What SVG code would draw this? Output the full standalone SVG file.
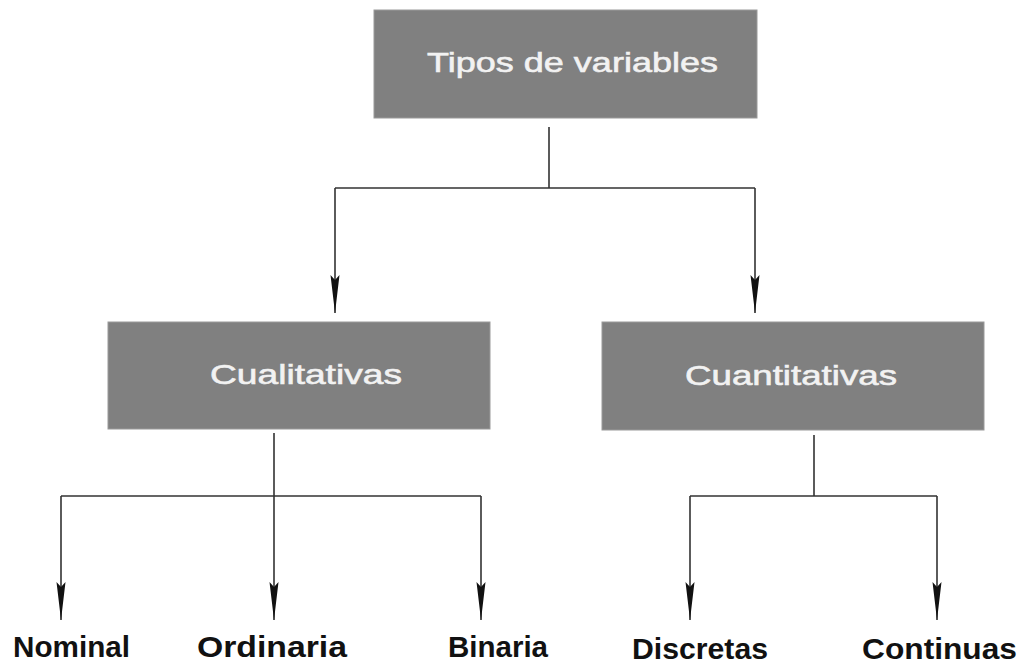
<svg xmlns="http://www.w3.org/2000/svg" width="1021" height="664" viewBox="0 0 1021 664">
<style>
.box{fill:#808080;stroke:#9a9a9a;stroke-width:1}
.bt{font-family:"Liberation Sans",Arial,sans-serif;fill:#f2f2f2;stroke:#f2f2f2;stroke-width:0.6;font-size:28px}
.lt{font-family:"Liberation Sans",Arial,sans-serif;fill:#111;font-size:30px;font-weight:bold}
.ln{fill:none;stroke:#333;stroke-width:1.6}
</style>
<defs>
<marker id="ah" markerUnits="userSpaceOnUse" viewBox="-40 -6 42 12" refX="0" refY="0" markerWidth="42" markerHeight="12" orient="auto">
<path d="M0,0 L-38,-4.5 L-33,0 L-38,4.5 Z" fill="#111"/>
</marker>
</defs>
<rect width="1021" height="664" fill="#fff"/>
<g id="connectors">
<path class="ln" d="M549,127 V188 M335,188 H755"/>
<path class="ln" d="M335,188 V313" marker-end="url(#ah)"/>
<path class="ln" d="M755,188 V313" marker-end="url(#ah)"/>
<path class="ln" d="M274,433 V496 M61,496 H481"/>
<path class="ln" d="M61,496 V620" marker-end="url(#ah)"/>
<path class="ln" d="M274,496 V620" marker-end="url(#ah)"/>
<path class="ln" d="M481,496 V620" marker-end="url(#ah)"/>
<path class="ln" d="M814,435 V496 M690,496 H937"/>
<path class="ln" d="M690,496 V620" marker-end="url(#ah)"/>
<path class="ln" d="M937,496 V620" marker-end="url(#ah)"/>
</g>
<g id="node-tipos">
<rect class="box" x="374" y="10" width="383" height="108"/>
<text class="bt" x="427" y="72" font-size="30" textLength="291" lengthAdjust="spacingAndGlyphs">Tipos de variables</text>
</g>
<g id="node-cualitativas">
<rect class="box" x="108" y="322" width="382" height="107"/>
<text class="bt" x="210" y="384" textLength="192" lengthAdjust="spacingAndGlyphs">Cualitativas</text>
</g>
<g id="node-cuantitativas">
<rect class="box" x="602" y="322" width="382" height="108"/>
<text class="bt" x="685" y="385" textLength="212" lengthAdjust="spacingAndGlyphs">Cuantitativas</text>
</g>
<g id="node-nominal"><text class="lt" x="13" y="657" textLength="117" lengthAdjust="spacingAndGlyphs">Nominal</text></g>
<g id="node-ordinaria"><text class="lt" x="197" y="657" textLength="150" lengthAdjust="spacingAndGlyphs">Ordinaria</text></g>
<g id="node-binaria"><text class="lt" x="448" y="657" textLength="100" lengthAdjust="spacingAndGlyphs">Binaria</text></g>
<g id="node-discretas"><text class="lt" x="632" y="659" textLength="136" lengthAdjust="spacingAndGlyphs">Discretas</text></g>
<g id="node-continuas"><text class="lt" x="862" y="659" textLength="155" lengthAdjust="spacingAndGlyphs">Continuas</text></g>
</svg>
